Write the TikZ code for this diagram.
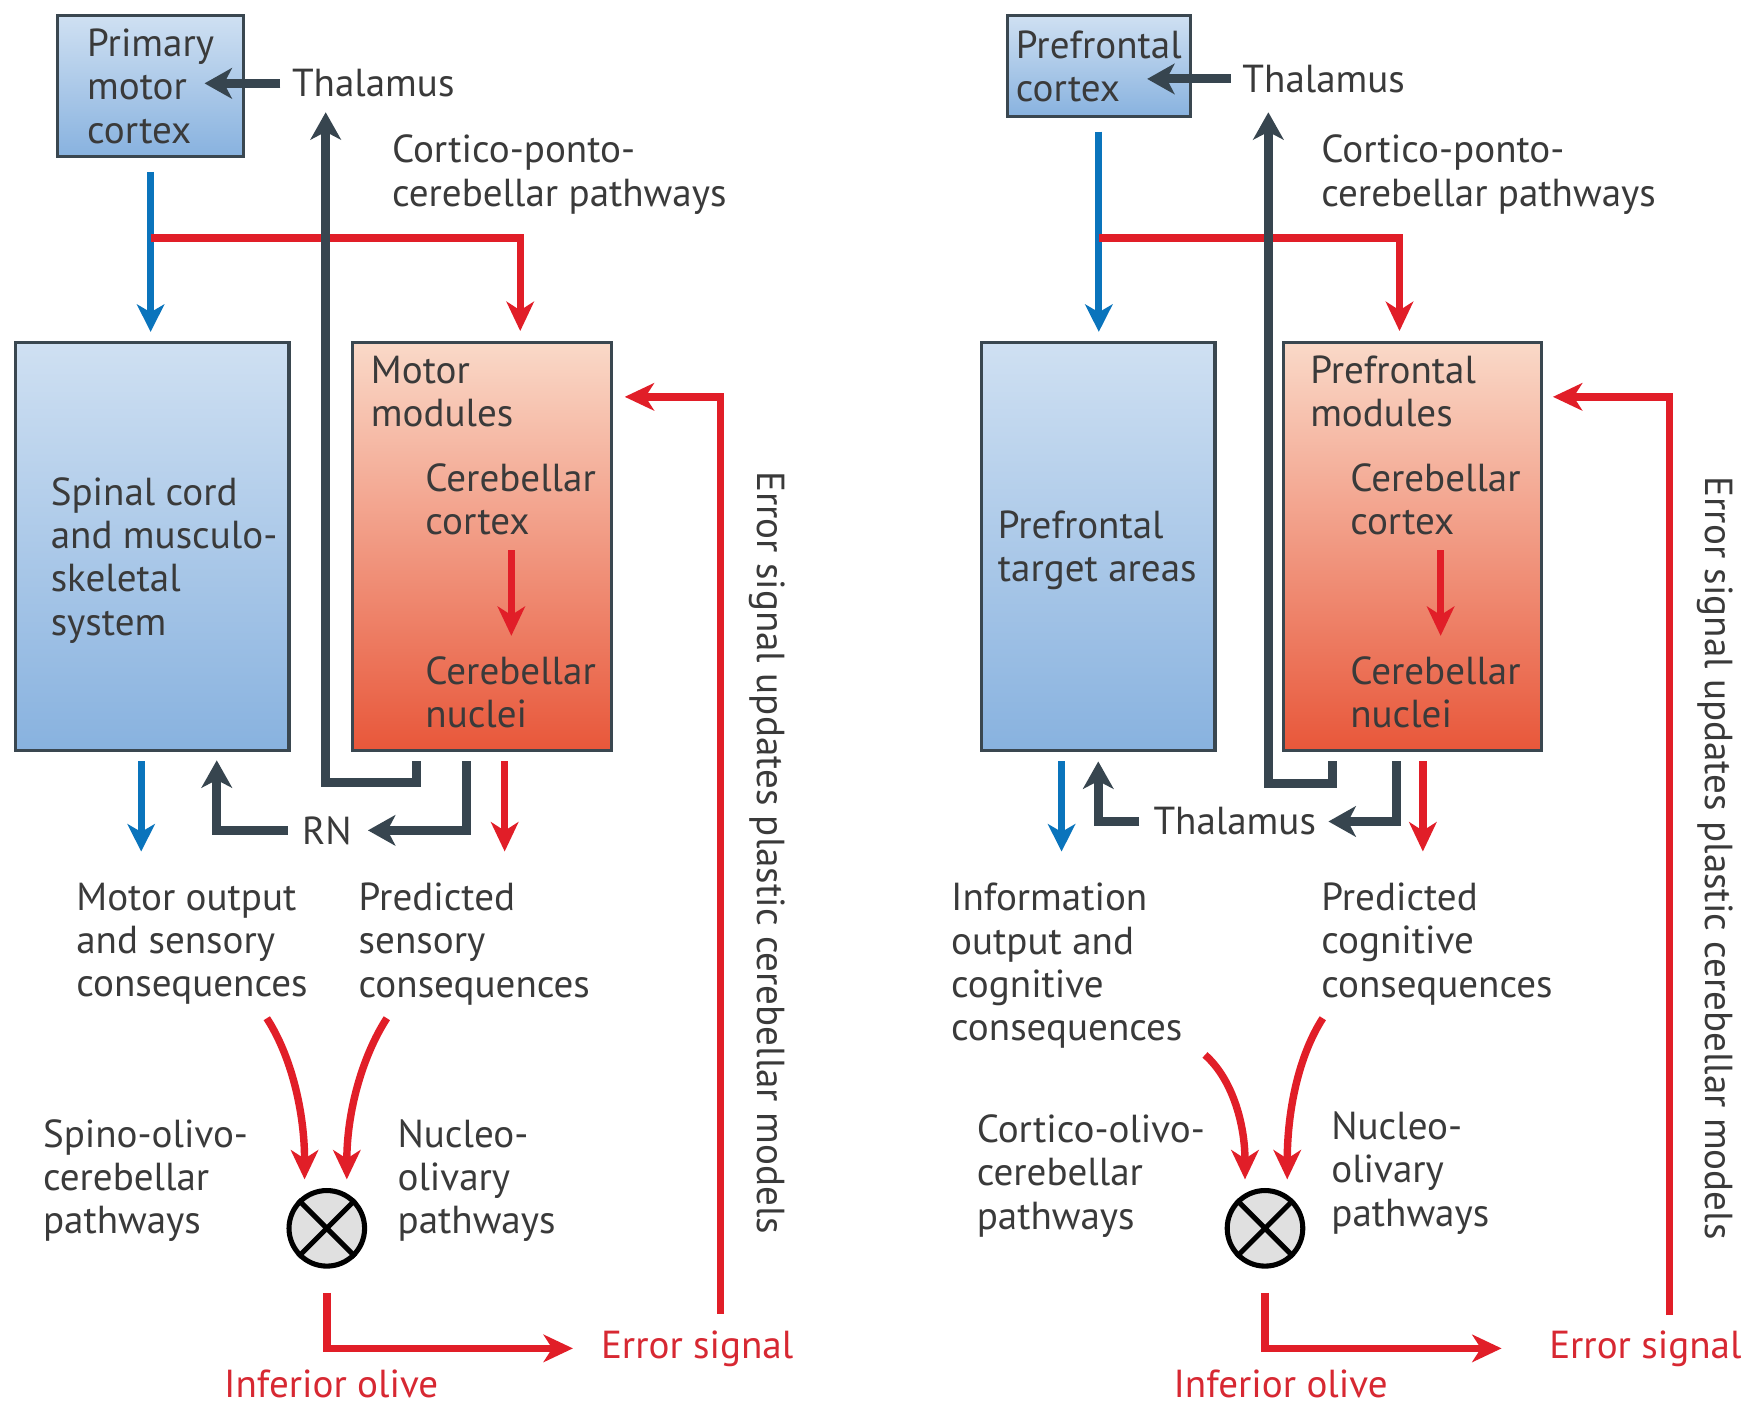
\documentclass[tikz,border=0pt]{standalone}
\usepackage{fontspec}
\setmainfont{PT Sans}
\usetikzlibrary{arrows.meta}

\definecolor{txtgray}{HTML}{3A3A3A}
\definecolor{errred}{HTML}{D72832}
\definecolor{boxline}{HTML}{3A4750}
\definecolor{bxblue1}{HTML}{CFE0F2}
\definecolor{bxblue2}{HTML}{88B2DF}
\definecolor{bxred1}{HTML}{FAD9C8}
\definecolor{bxred2}{HTML}{E8573A}
\definecolor{arrblue}{HTML}{0A74BC}
\definecolor{arrred}{HTML}{E11E28}
\definecolor{arrgray}{HTML}{37454F}

\newcommand{\lblfont}{\fontsize{10pt}{11.1pt}\selectfont}

\begin{document}
\begin{tikzpicture}[x=0.1mm, y=-0.1mm,
  lbl/.style={font=\lblfont, text=txtgray, align=left, inner sep=0pt, anchor=west},
  redlbl/.style={lbl, text=errred},
  bluebox/.style={draw=boxline, line width=0.8pt, top color=bxblue1, bottom color=bxblue2, inner sep=0pt},
  redbox/.style={draw=boxline, line width=0.8pt, top color=bxred1, bottom color=bxred2, inner sep=0pt},
  bluearr/.style={draw=arrblue, line width=1.8pt, -{Stealth[length=7pt,width=7pt,inset=2pt]}},
  redarr/.style={draw=arrred, line width=1.9pt, -{Stealth[length=7.5pt,width=7pt,inset=2.2pt]}},
  grayarr/.style={draw=arrgray, line width=2.3pt, -{Stealth[length=7pt,width=7.8pt,inset=2pt]}},
  olive/.style={circle, draw=black, line width=1.3pt, fill=black!12, minimum size=6.8mm, inner sep=0pt}]

  \path[use as bounding box, fill=white] (0,0) rectangle (1568,1263);

  % ---- motor side
  \node[bluebox, minimum width=16.7mm, minimum height=12.7mm, font=\lblfont, text=txtgray, align=left] (pmc) at (135.5,77.5) {Primary\\motor\\cortex};
  \node[bluebox, minimum width=24.6mm, minimum height=36.7mm] (spinal) at (137,491.5) {};
  \node[redbox, minimum width=23.3mm, minimum height=36.7mm] (motmod) at (433.5,491.5) {};

  \node[lbl] (thalL) at (262,75) {Thalamus};
  \node[lbl] (cpcL) at (352,157) {Cortico-ponto-\\cerebellar pathways};
  \node[lbl] (spinT) at (45,504) {Spinal cord\\and musculo-\\skeletal\\system};
  \node[lbl] (modL) at (333,352) {Motor\\modules};
  \node[lbl] (ccxL) at (382,449) {Cerebellar\\cortex};
  \node[lbl] (cnuL) at (382,623) {Cerebellar\\nuclei};
  \node[lbl] (rnL) at (271,747) {RN};
  \node[lbl] (moL) at (68,849) {Motor output\\and sensory\\consequences};
  \node[lbl] (psL) at (322,849) {Predicted\\sensory\\consequences};
  \node[lbl] (sopL) at (38,1062) {Spino-olivo-\\cerebellar\\pathways};
  \node[lbl] (nopL) at (357,1062) {Nucleo-\\olivary\\pathways};
  \node[olive] (olvL) at (294,1105) {};
  \draw[line width=1.3pt] (olvL.45) -- (olvL.225) (olvL.135) -- (olvL.-45);
  \node[redlbl] (errL) at (540,1213) {Error signal};
  \node[redlbl, anchor=center] (infL) at (298,1245) {Inferior olive};
  \node[lbl, anchor=center, rotate=-90] (vlabL) at (690,767) {Error signal updates plastic cerebellar models};

  \coordinate (tipL) at (184,75);
  \coordinate (brL) at (135.5,214);
  \coordinate (knL) at (468,214);
  \coordinate (gl1) at (375,685);
  \coordinate (gl2) at (293,704);
  \coordinate (gl3) at (293,101);
  \coordinate (rn1) at (420,685);
  \coordinate (rn2) at (195,684);
  \coordinate (bo1) at (127,685);
  \coordinate (bo2) at (127,766);
  \coordinate (ro1) at (454,685);
  \coordinate (ro2) at (454,766);
  \coordinate (cu1) at (240,916);
  \coordinate (ce1) at (274,1061);
  \coordinate (cu2) at (348,916);
  \coordinate (ce2) at (312,1061);
  \coordinate (fbL) at (648,1182);
  \coordinate (fbtL) at (562,357);
  \coordinate (inL) at (460,495);
  \coordinate (inL2) at (460,572);

  \draw[bluearr, shorten <=3.5pt, shorten >=2.3pt] (pmc.south) -- (pmc.south |- spinal.north);
  \draw[redarr, shorten >=2.5pt] (brL) -- (knL) -- (knL |- motmod.north);
  \draw[grayarr, shorten <=2.8pt] (thalL.west) -- (tipL);
  \draw[grayarr] (gl1) |- (gl2) -- (gl3);
  \draw[grayarr, shorten >=4pt] (rn1) |- (rnL.east);
  \draw[grayarr, shorten <=3.4pt] (rnL.west) -| (rn2);
  \draw[bluearr] (bo1) -- (bo2);
  \draw[redarr] (ro1) -- (ro2);
  \draw[redarr] (inL) -- (inL2);
  \draw[redarr] (cu1) .. controls (262,950) and (274,1000) .. (ce1);
  \draw[redarr] (cu2) .. controls (326,950) and (312,1000) .. (ce2);
  \draw[redarr, shorten <=6.2pt, shorten >=7pt] (olvL.south) |- (errL.west);
  \draw[redarr] (fbL) |- (fbtL);

  % ---- prefrontal side
  \node[bluebox, minimum width=16.5mm, minimum height=9.1mm, font=\lblfont, text=txtgray, align=left] (pfc) at (988.5,59.5) {Prefrontal\\cortex};
  \node[bluebox, minimum width=21mm, minimum height=36.7mm] (pftarget) at (988,491.5) {};
  \node[redbox, minimum width=23.2mm, minimum height=36.7mm] (pfmod) at (1271,491.5) {};

  \node[lbl] (thalR) at (1117,71) {Thalamus};
  \node[lbl] (cpcR) at (1188,157) {Cortico-ponto-\\cerebellar pathways};
  \node[lbl] (ptaT) at (897,495) {Prefrontal\\target areas};
  \node[lbl] (modR) at (1178,352) {Prefrontal\\modules};
  \node[lbl] (ccxR) at (1214,449) {Cerebellar\\cortex};
  \node[lbl] (cnuR) at (1214,623) {Cerebellar\\nuclei};
  \node[lbl] (thal2R) at (1037,739) {Thalamus};
  \node[lbl] (ioutR) at (855,869) {Information\\output and\\cognitive\\consequences};
  \node[lbl] (pcR) at (1188,849) {Predicted\\cognitive\\consequences};
  \node[lbl] (copR) at (878,1058) {Cortico-olivo-\\cerebellar\\pathways};
  \node[lbl] (nopR) at (1197,1055) {Nucleo-\\olivary\\pathways};
  \node[olive] (olvR) at (1138,1105) {};
  \draw[line width=1.3pt] (olvR.45) -- (olvR.225) (olvR.135) -- (olvR.-45);
  \node[redlbl] (errR) at (1393,1213) {Error signal};
  \node[redlbl, anchor=center] (infR) at (1152,1245) {Inferior olive};
  \node[lbl, anchor=center, rotate=-90] (vlabR) at (1543,772) {Error signal updates plastic cerebellar models};

  \coordinate (tipR) at (1032,71);
  \coordinate (brR) at (988.5,214);
  \coordinate (knR) at (1259,214);
  \coordinate (gr1) at (1199,685);
  \coordinate (gr2) at (1141,705);
  \coordinate (gr3) at (1141,101);
  \coordinate (th1) at (1256,685);
  \coordinate (th2) at (988,685);
  \coordinate (bo3) at (955,685);
  \coordinate (bo4) at (955,766);
  \coordinate (ro3) at (1280,685);
  \coordinate (ro4) at (1280,766);
  \coordinate (cu3) at (1084,949);
  \coordinate (ce3) at (1120,1061);
  \coordinate (cu4) at (1190,916);
  \coordinate (ce4) at (1158,1061);
  \coordinate (fbR) at (1502,1183);
  \coordinate (fbtR) at (1397,357);
  \coordinate (inR) at (1296,495);
  \coordinate (inR2) at (1296,572);

  \draw[bluearr, shorten <=3.4pt, shorten >=2.3pt] (pfc.south) -- (pfc.south |- pftarget.north);
  \draw[redarr, shorten >=2.5pt] (brR) -- (knR) -- (knR |- pfmod.north);
  \draw[grayarr, shorten <=2.8pt] (thalR.west) -- (tipR);
  \draw[grayarr] (gr1) |- (gr2) -- (gr3);
  \draw[grayarr, shorten >=3pt] (th1) |- (thal2R.east);
  \draw[grayarr, shorten <=3.4pt] (thal2R.west) -| (th2);
  \draw[bluearr] (bo3) -- (bo4);
  \draw[redarr] (ro3) -- (ro4);
  \draw[redarr] (inR) -- (inR2);
  \draw[redarr] (cu3) .. controls (1108,970) and (1120,1010) .. (ce3);
  \draw[redarr] (cu4) .. controls (1168,950) and (1158,1000) .. (ce4);
  \draw[redarr, shorten <=6.2pt, shorten >=12pt] (olvR.south) |- (errR.west);
  \draw[redarr] (fbR) |- (fbtR);
\end{tikzpicture}
\end{document}
